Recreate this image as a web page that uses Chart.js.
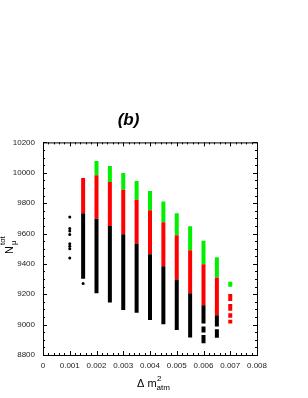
<!DOCTYPE html>
<html>
<head>
<meta charset="utf-8">
<script src="https://cdn.jsdelivr.net/npm/chart.js@4/dist/chart.umd.min.js"></script>
<style>
  html, body { margin: 0; padding: 0; background: #fff; }
  #wrap { width: 308px; height: 398px; }
</style>
</head>
<body>
<div id="wrap"><canvas id="chart" width="308" height="398"></canvas></div>
<script>
// columns of Δm²atm where a full band was scanned
const colX = [0.0015, 0.002, 0.0025, 0.003, 0.0035, 0.004, 0.0045, 0.005, 0.0055, 0.006, 0.0065]
const blackLow = [9302, 9206, 9146, 9096, 9078, 9030, 9002, 8964, 8916, 9008, 8987]
const redLow = [9733, 9698, 9650, 9595, 9534, 9464, 9385, 9298, 9206, 9127, 9061]
const greenLow = [9966, 9983, 9939, 9889, 9823, 9753, 9674, 9588, 9490, 9398, 9311]
const greenHigh = [null, 10077, 10044, 9998, 9946, 9880, 9810, 9734, 9648, 9553, 9444]

// broken pieces at the right end
const blackPieceX = [0.006, 0.006, 0.0065]
const blackPieceLow = [8948, 8877, 8913]
const blackPieceHigh = [8987, 8932, 8970]
const redPieceX = [0.007, 0.007, 0.007, 0.007]
const redPieceLow = [9155, 9092, 9045, 9008]
const redPieceHigh = [9202, 9136, 9075, 9032]
const greenPieceX = [0.007]
const greenPieceLow = [9249]
const greenPieceHigh = [9282]

// isolated points
const dotX = [0.001, 0.001, 0.001, 0.001, 0.001, 0.001, 0.001, 0.001, 0.0015]
const dotY = [9709, 9633, 9617, 9593, 9532, 9516, 9499, 9438, 9271]

const xTicks = [0, 0.001, 0.002, 0.003, 0.004, 0.005, 0.006, 0.007, 0.008]
const yTicks = [8800, 9000, 9200, 9400, 9600, 9800, 10000, 10200]

const BLACK = '#000000'
const RED = '#ff0000'
const GREEN = '#00f000'
const FONT = '"Liberation Sans", Arial, sans-serif'

const bars = (xs, lows, highs) =>
  xs.map((x, i) => ({ x, y: [lows[i], highs[i]] })).filter((d) => d.y[1] != null)

// grouped:false ignores barThickness, so the width is capped instead
const barStyle = (color) => ({
  type: 'bar',
  backgroundColor: color,
  maxBarThickness: 4,
  grouped: false,
  borderWidth: 0,
})

const datasets = [
  { ...barStyle(BLACK), data: [...bars(colX, blackLow, redLow), ...bars(blackPieceX, blackPieceLow, blackPieceHigh)] },
  { ...barStyle(RED), data: [...bars(colX, redLow, greenLow), ...bars(redPieceX, redPieceLow, redPieceHigh)] },
  { ...barStyle(GREEN), data: [...bars(colX, greenLow, greenHigh), ...bars(greenPieceX, greenPieceLow, greenPieceHigh)] },
  {
    type: 'scatter',
    data: dotX.map((x, i) => ({ x, y: dotY[i] })),
    pointRadius: 1.5,
    pointBackgroundColor: BLACK,
    pointBorderWidth: 0,
  },
]

// frame with inward major/minor ticks on all four sides, plus axis titles
const framePlugin = {
  id: 'frame',
  afterDraw(chart) {
    const { ctx, chartArea: a, scales } = chart
    const xs = scales.x
    const ys = scales.y
    ctx.save()
    ctx.strokeStyle = '#000'
    ctx.lineWidth = 1
    ctx.strokeRect(a.left + 0.5, a.top + 0.5, a.right - a.left, a.bottom - a.top)
    ctx.beginPath()
    for (let k = 0; k <= 40; k++) {
      const px = Math.round(xs.getPixelForValue(k * 0.0002)) + 0.5
      const len = k % 5 === 0 ? 4 : 2
      ctx.moveTo(px, a.bottom); ctx.lineTo(px, a.bottom - len)
      ctx.moveTo(px, a.top); ctx.lineTo(px, a.top + len)
    }
    for (let v = 8800; v <= 10200; v += 50) {
      const py = Math.round(ys.getPixelForValue(v)) + 0.5
      const len = v % 200 === 0 ? 4 : 2
      ctx.moveTo(a.left, py); ctx.lineTo(a.left + len, py)
      ctx.moveTo(a.right, py); ctx.lineTo(a.right - len, py)
    }
    ctx.stroke()

    // x title: Δ m²atm
    ctx.fillStyle = '#000'
    ctx.textBaseline = 'alphabetic'
    const cx = (a.left + a.right) / 2 - 13
    ctx.font = `11px ${FONT}`
    ctx.fillText('Δ m', cx, 387)
    const w = ctx.measureText('Δ m').width
    ctx.font = `8px ${FONT}`
    ctx.fillText('2', cx + w + 0.5, 381)
    ctx.fillText('atm', cx + w, 389.5)

    // y title: N_μ^tot, rotated
    ctx.translate(13.3, 254)
    ctx.rotate(-Math.PI / 2)
    ctx.font = `11px ${FONT}`
    ctx.fillText('N', 0, 0)
    const nw = ctx.measureText('N').width
    ctx.font = `8px ${FONT}`
    ctx.fillText('tot', nw + 1, -8)
    ctx.fillText('μ', nw + 1, 2.5)
    ctx.restore()
  },
}

new Chart(document.getElementById('chart'), {
  data: { datasets },
  options: {
    responsive: false,
    animation: false,
    layout: { padding: { left: 0, right: 51, top: 0, bottom: 0 } },
    scales: {
      x: {
        type: 'linear',
        offset: false,
        min: 0,
        max: 0.008,
        afterBuildTicks: (scale) => { scale.ticks = xTicks.map((value) => ({ value })) },
        afterFit: (scale) => { scale.height = 43 },
        grid: { display: false, drawTicks: false },
        border: { display: false },
        ticks: {
          color: '#222',
          font: { family: FONT, size: 8 },
          padding: 6,
          maxRotation: 0,
          autoSkip: false,
          callback: (v) => (v === 0 ? '0' : Number(v).toFixed(3)),
        },
      },
      y: {
        type: 'linear',
        min: 8800,
        max: 10200,
        afterBuildTicks: (scale) => { scale.ticks = yTicks.map((value) => ({ value })) },
        afterFit: (scale) => { scale.width = 43 },
        grid: { display: false, drawTicks: false },
        border: { display: false },
        ticks: {
          color: '#222',
          font: { family: FONT, size: 8 },
          padding: 8,
          autoSkip: false,
          callback: (v) => String(v),
        },
      },
    },
    plugins: {
      legend: { display: false },
      tooltip: { enabled: false },
      title: {
        display: true,
        text: '(b)',
        color: '#000',
        font: { family: FONT, size: 17, weight: 'bold', style: 'italic' },
        padding: { top: 110, bottom: 12 },
      },
    },
  },
  plugins: [framePlugin],
})
</script>
</body>
</html>
